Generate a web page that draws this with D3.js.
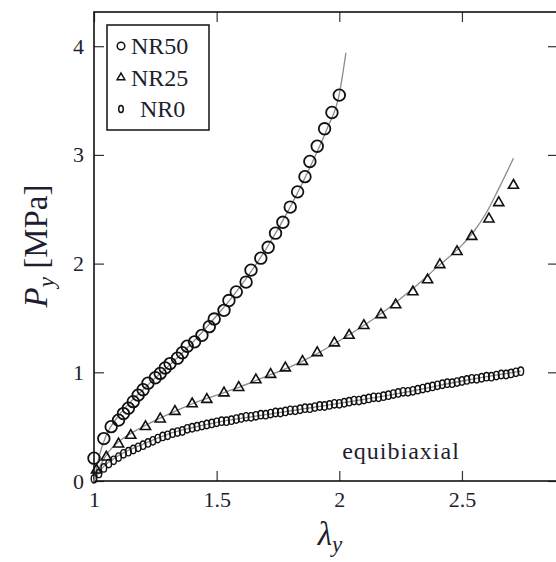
<!DOCTYPE html>
<html>
<head>
<meta charset="utf-8">
<script src="https://cdn.jsdelivr.net/npm/d3@7"></script>
<style>
  body { margin: 0; background: #fff; }
  svg { display: block; }
</style>
</head>
<body>
<div id="main"></div>
<script>
const nr50Lambda = [1.00, 1.04, 1.07, 1.10, 1.12, 1.14, 1.16, 1.18, 1.20, 1.22, 1.25, 1.27, 1.29, 1.31, 1.34, 1.36, 1.38, 1.41, 1.44, 1.47, 1.49, 1.53, 1.55, 1.58, 1.62, 1.64, 1.68, 1.71, 1.74, 1.77, 1.80, 1.83, 1.86, 1.88, 1.91, 1.94, 1.97, 2.00];
const nr50P = [0.21, 0.39, 0.50, 0.56, 0.62, 0.67, 0.73, 0.79, 0.84, 0.90, 0.95, 0.99, 1.04, 1.08, 1.13, 1.18, 1.24, 1.28, 1.34, 1.42, 1.49, 1.57, 1.66, 1.74, 1.83, 1.94, 2.05, 2.15, 2.28, 2.38, 2.52, 2.66, 2.80, 2.94, 3.08, 3.24, 3.39, 3.55];

const nr25Lambda = [1.01, 1.05, 1.10, 1.15, 1.21, 1.27, 1.33, 1.40, 1.46, 1.53, 1.59, 1.66, 1.72, 1.78, 1.85, 1.91, 1.98, 2.04, 2.10, 2.17, 2.23, 2.30, 2.36, 2.41, 2.48, 2.54, 2.61, 2.65, 2.71];
const nr25P = [0.10, 0.22, 0.34, 0.42, 0.50, 0.57, 0.64, 0.71, 0.75, 0.81, 0.86, 0.93, 0.98, 1.04, 1.10, 1.18, 1.27, 1.34, 1.43, 1.53, 1.62, 1.74, 1.85, 1.99, 2.11, 2.25, 2.41, 2.56, 2.72];

const nr0Lambda = [1.00, 1.02, 1.04, 1.06, 1.08, 1.10, 1.12, 1.14, 1.16, 1.18, 1.20, 1.22, 1.24, 1.26, 1.28, 1.30, 1.32, 1.34, 1.36, 1.38, 1.40, 1.42, 1.44, 1.46, 1.48, 1.50, 1.52, 1.54, 1.56, 1.58, 1.60, 1.62, 1.64, 1.66, 1.68, 1.70, 1.72, 1.74, 1.76, 1.78, 1.80, 1.82, 1.84, 1.86, 1.88, 1.90, 1.92, 1.94, 1.96, 1.98, 2.00, 2.02, 2.04, 2.06, 2.08, 2.10, 2.12, 2.14, 2.16, 2.18, 2.20, 2.22, 2.24, 2.26, 2.28, 2.30, 2.32, 2.34, 2.36, 2.38, 2.40, 2.42, 2.44, 2.46, 2.48, 2.50, 2.52, 2.54, 2.56, 2.58, 2.60, 2.62, 2.64, 2.66, 2.68, 2.70, 2.72, 2.74];
const nr0P = [0.02, 0.07, 0.12, 0.16, 0.19, 0.22, 0.25, 0.27, 0.29, 0.31, 0.33, 0.35, 0.37, 0.39, 0.41, 0.42, 0.44, 0.45, 0.46, 0.48, 0.49, 0.50, 0.51, 0.52, 0.53, 0.54, 0.55, 0.55, 0.56, 0.57, 0.58, 0.59, 0.59, 0.60, 0.61, 0.61, 0.62, 0.63, 0.63, 0.64, 0.65, 0.65, 0.66, 0.67, 0.67, 0.68, 0.69, 0.69, 0.70, 0.71, 0.71, 0.72, 0.73, 0.74, 0.74, 0.75, 0.76, 0.77, 0.77, 0.78, 0.79, 0.80, 0.81, 0.82, 0.82, 0.83, 0.84, 0.85, 0.86, 0.87, 0.88, 0.89, 0.90, 0.90, 0.91, 0.92, 0.93, 0.94, 0.94, 0.95, 0.96, 0.96, 0.97, 0.98, 0.98, 0.99, 1.00, 1.01];

// model curves (grey lines)
const fit50Lambda = [1.00, 1.02, 1.05, 1.10, 1.15, 1.20, 1.25, 1.30, 1.40, 1.50, 1.60, 1.70, 1.80, 1.90, 1.95, 2.00, 2.027];
const fit50P = [0, 0.22, 0.42, 0.60, 0.73, 0.84, 0.95, 1.05, 1.27, 1.52, 1.80, 2.13, 2.52, 2.98, 3.24, 3.56, 3.94];
const fit25Lambda = [1.00, 1.03, 1.06, 1.10, 1.20, 1.30, 1.40, 1.50, 1.60, 1.70, 1.80, 1.90, 2.00, 2.10, 2.20, 2.30, 2.40, 2.50, 2.55, 2.60, 2.65, 2.71];
const fit25P = [0, 0.16, 0.27, 0.36, 0.50, 0.61, 0.71, 0.79, 0.87, 0.96, 1.05, 1.16, 1.29, 1.43, 1.59, 1.77, 1.97, 2.17, 2.30, 2.47, 2.69, 2.97];
const fit0Lambda = [1.00, 1.03, 1.07, 1.12, 1.20, 1.30, 1.40, 1.50, 1.70, 1.90, 2.10, 2.30, 2.50, 2.74];
const fit0P = [0, 0.11, 0.19, 0.26, 0.34, 0.43, 0.49, 0.54, 0.61, 0.68, 0.75, 0.83, 0.92, 1.01];

const xTicks = [1, 1.5, 2, 2.5];
const xTickLabels = ["1", "1.5", "2", "2.5"];
const yTicks = [0, 1, 2, 3, 4];
const yTickLabels = ["0", "1", "2", "3", "4"];
const legendNames = ["NR50", "NR25", "NR0"];

const width = 556;
const height = 562;
const margin = { top: 12, right: -1, bottom: 81, left: 94 };
const innerWidth = width - margin.left - margin.right;
const innerHeight = height - margin.top - margin.bottom;

const textColor = "#1e1e30";
const serif = "Liberation Serif";

const x = d3.scaleLinear().domain([1, 2.8875]).range([0, innerWidth]);
const y = d3.scaleLinear().domain([0, 4.3147]).range([innerHeight, 0]);

const svg = d3.select("#main").append("svg")
  .attr("width", width)
  .attr("height", height);

const g = svg.append("g")
  .attr("transform", `translate(${margin.left},${margin.top})`);

function styleAxis(sel, showLabels) {
  sel.select(".domain").remove();
  sel.selectAll(".tick line").attr("stroke", "#333").attr("stroke-width", 1.2);
  if (!showLabels) {
    sel.selectAll(".tick text").remove();
    return;
  }
  sel.selectAll(".tick text")
    .attr("fill", textColor)
    .attr("font-family", serif)
    .attr("font-size", 22);
}

g.append("g")
  .attr("transform", `translate(0,${innerHeight})`)
  .call(d3.axisBottom(x).tickValues(xTicks).tickSize(-10).tickPadding(10)
    .tickFormat((d, i) => xTickLabels[i]))
  .call(s => styleAxis(s, true));

g.append("g")
  .call(d3.axisTop(x).tickValues(xTicks).tickSize(-10))
  .call(s => styleAxis(s, false));

g.append("g")
  .call(d3.axisLeft(y).tickValues(yTicks).tickSize(-10).tickPadding(10)
    .tickFormat((d, i) => yTickLabels[i]))
  .call(s => styleAxis(s, true));

g.append("g")
  .attr("transform", `translate(${innerWidth},0)`)
  .call(d3.axisRight(y).tickValues(yTicks).tickSize(-9))
  .call(s => styleAxis(s, false));

g.append("rect")
  .attr("width", innerWidth)
  .attr("height", innerHeight)
  .attr("fill", "none")
  .attr("stroke", "#111")
  .attr("stroke-width", 1.6);

// model lines
const line = d3.line()
  .x(d => x(d[0]))
  .y(d => y(d[1]))
  .curve(d3.curveMonotoneX);

const fits = [
  d3.zip(fit0Lambda, fit0P),
  d3.zip(fit25Lambda, fit25P),
  d3.zip(fit50Lambda, fit50P)
];

g.append("g")
  .selectAll("path")
  .data(fits)
  .enter()
  .append("path")
  .attr("d", line)
  .attr("fill", "none")
  .attr("stroke", "#8c8c8c")
  .attr("stroke-width", 1.3);

// markers
const markerStroke = "#111";

g.append("g")
  .selectAll("ellipse")
  .data(d3.zip(nr0Lambda, nr0P))
  .enter()
  .append("ellipse")
  .attr("cx", d => x(d[0]))
  .attr("cy", d => y(d[1]))
  .attr("rx", 2.8)
  .attr("ry", 4.2)
  .attr("fill", "none")
  .attr("stroke", markerStroke)
  .attr("stroke-width", 1.4);

const tri = d3.symbol().type(d3.symbolTriangle).size(44);

g.append("g")
  .selectAll("path")
  .data(d3.zip(nr25Lambda, nr25P))
  .enter()
  .append("path")
  .attr("d", tri)
  .attr("transform", d => `translate(${x(d[0])},${y(d[1])})`)
  .attr("fill", "none")
  .attr("stroke", markerStroke)
  .attr("stroke-width", 1.6);

g.append("g")
  .selectAll("circle")
  .data(d3.zip(nr50Lambda, nr50P))
  .enter()
  .append("circle")
  .attr("cx", d => x(d[0]))
  .attr("cy", d => y(d[1]))
  .attr("r", 5.8)
  .attr("fill", "none")
  .attr("stroke", markerStroke)
  .attr("stroke-width", 1.8);

// legend
const legend = svg.append("g").attr("transform", "translate(107,25)");

legend.append("rect")
  .attr("width", 102)
  .attr("height", 105)
  .attr("fill", "#fff")
  .attr("stroke", "#111")
  .attr("stroke-width", 1.5);

const legendRows = legend.selectAll("g.row")
  .data(legendNames)
  .enter()
  .append("g")
  .attr("class", "row")
  .attr("transform", (d, i) => `translate(0,${21 + i * 31.5})`);

legendRows.each(function(d, i) {
  const row = d3.select(this);
  if (i === 0) {
    row.append("circle").attr("cx", 14).attr("cy", 0).attr("r", 3.8);
  } else if (i === 1) {
    row.append("path").attr("d", d3.symbol().type(d3.symbolTriangle).size(26))
      .attr("transform", "translate(14,0)");
  } else {
    row.append("ellipse").attr("cx", 14).attr("cy", 0).attr("rx", 2.3).attr("ry", 3.5);
  }
  row.selectAll("circle, path, ellipse")
    .attr("fill", "none")
    .attr("stroke", markerStroke)
    .attr("stroke-width", 1.5);
  row.append("text")
    .attr("x", i === 2 ? 33 : 24)
    .attr("y", 8)
    .attr("fill", textColor)
    .attr("font-family", serif)
    .attr("font-size", 24)
    .text(d);
});

// annotation
svg.append("text")
  .attr("x", 401)
  .attr("y", 459)
  .attr("text-anchor", "middle")
  .attr("fill", textColor)
  .attr("font-family", serif)
  .attr("font-size", 24)
  .attr("letter-spacing", 1)
  .text("equibiaxial");

// axis titles
const xTitle = svg.append("text")
  .attr("x", 330)
  .attr("y", 545)
  .attr("text-anchor", "middle")
  .attr("fill", textColor)
  .attr("font-family", serif)
  .attr("font-size", 33);
xTitle.append("tspan").attr("font-style", "italic").text("λ");
xTitle.append("tspan").attr("font-style", "italic").attr("font-size", 23)
  .attr("dy", 7).text("y");

const yTitle = svg.append("text")
  .attr("transform", "translate(47,246) rotate(-90)")
  .attr("text-anchor", "middle")
  .attr("fill", textColor)
  .attr("font-family", serif)
  .attr("font-size", 33);
yTitle.append("tspan").attr("font-style", "italic").text("P");
yTitle.append("tspan").attr("font-style", "italic").attr("font-size", 23)
  .attr("dy", 7).text("y");
yTitle.append("tspan").attr("dy", -7).text(" [MPa]");
</script>
</body>
</html>
